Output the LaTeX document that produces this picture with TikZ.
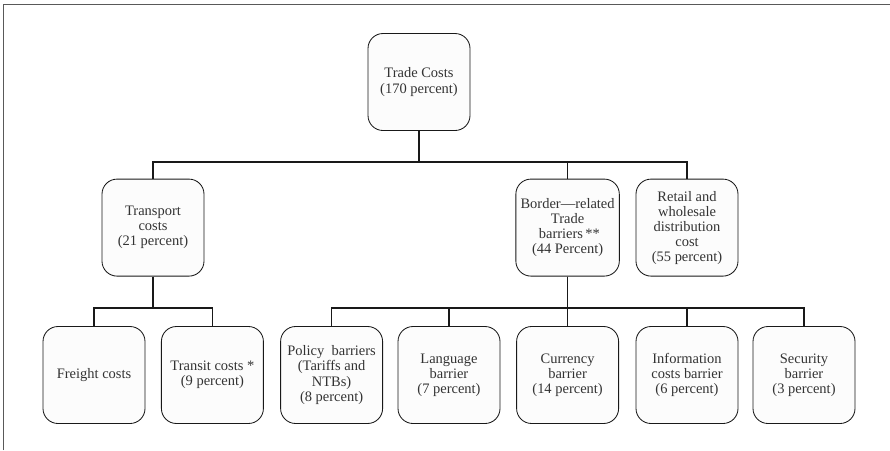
\documentclass[tikz,border=0pt]{standalone}
\usepackage{tikz}
\usepackage{fontspec}
\setmainfont{Liberation Serif}
\usetikzlibrary{positioning}

\begin{document}
\begin{tikzpicture}[
cost/.style={rectangle, rounded corners=0.375cm, draw=black!90, fill=black!1, line width=0.6pt,
  minimum width=2.55cm, minimum height=2.425cm, align=center, text=black!80,
  font=\fontsize{10.3}{10.7}\selectfont},
link/.style={line width=1.1pt, black!90}]
\useasboundingbox (0,0) rectangle (22.25,-11.25);
      \def\ya{-2.05}
      \def\yb{-5.69}
      \def\yc{-9.375}
%frame
\draw[black!65, line width=0.7pt] (0.075,-11.25) -- (0.075,-0.1) -- (22.25,-0.1);

%top
\node[cost] (trade) at (10.475,\ya) {Trade Costs\\(170 percent)};

%second row
\node[cost] (transport) at (3.825,\yb) {Transport\\costs\\(21 percent)};
\node[cost] (border) at (14.19,\yb) {Border---related\\Trade\\\ barriers\,**\\(44 Percent)};
\node[cost] (retail) at (17.175,\yb) {Retail and\\wholesale\\distribution\\cost\\(55 percent)};

%third row
\node[cost] (freight) at (2.35,\yc) {Freight costs};
\node[cost] (transit) at (5.31,\yc) {Transit costs *\\(9 percent)};
\node[cost] (policy) at (8.29,\yc) {Policy\ \ barriers\\(Tariffs and\\NTBs)\\(8 percent)};
\node[cost] (language) at (11.225,\yc) {Language\\barrier\\(7 percent)};
\node[cost] (currency) at (14.19,\yc) {Currency\\barrier\\(14 percent)};
\node[cost] (information) at (17.175,\yc) {Information\\costs barrier\\(6 percent)};
\node[cost] (security) at (20.1,\yc) {Security\\barrier\\(3 percent)};

\coordinate (bus1) at (0,-4.05);
\coordinate (bus2) at (0,-7.7);

% trade costs -> groups
\foreach \c in {transport, border, retail}
  \draw[link] (trade.south) -- (trade.south |- bus1) -| (\c.north);
% transport -> freight, transit
\foreach \c in {freight, transit}
  \draw[link] (transport.south) -- (transport.south |- bus2) -| (\c.north);
% border -> barriers
\foreach \c in {policy, language, currency, information, security}
  \draw[link] (border.south) -- (border.south |- bus2) -| (\c.north);

\end{tikzpicture}
\end{document}
